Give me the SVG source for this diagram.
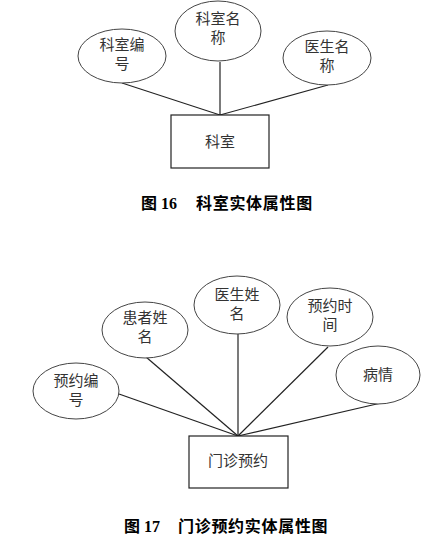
<svg xmlns="http://www.w3.org/2000/svg" width="440" height="550" viewBox="0 0 440 550">
<style>
.attr{fill:#fff;stroke:#444;stroke-width:1}
.ent{fill:#fff;stroke:#222;stroke-width:1.2}
.conn line{stroke:#222;stroke-width:1.2}
.t{font-family:"Noto Sans CJK SC","Liberation Sans",sans-serif;font-size:15px;fill:#333;text-anchor:middle}
.cap{font-family:"Liberation Serif","Noto Sans CJK SC",serif;font-size:16px;font-weight:bold;fill:#000}
.capc{font-family:"Noto Sans CJK SC",sans-serif;font-size:16px;font-weight:bold;fill:#000;letter-spacing:0.7px}
</style>
<rect width="440" height="550" fill="#fff"/>
<g class="conn" id="connectors1">
<line x1="122" y1="83" x2="220" y2="115"/>
<line x1="220" y1="62" x2="220" y2="115"/>
<line x1="328" y1="85" x2="220" y2="115"/>
</g>
<g id="attr-keshi-bianhao"><ellipse class="attr" cx="122" cy="56" rx="44" ry="27"/><text class="t" x="122" y="50">科室编</text><text class="t" x="122" y="69">号</text></g>
<g id="attr-keshi-mingcheng"><ellipse class="attr" cx="218" cy="31" rx="43" ry="30"/><text class="t" x="218" y="24">科室名</text><text class="t" x="218" y="43">称</text></g>
<g id="attr-yisheng-mingcheng"><ellipse class="attr" cx="327" cy="58" rx="44" ry="27"/><text class="t" x="327" y="52">医生名</text><text class="t" x="327" y="71">称</text></g>
<g id="entity-keshi"><rect class="ent" x="171" y="115" width="98" height="53"/><text class="t" x="220" y="147">科室</text></g>
<g id="caption16"><text class="cap" x="141" y="209">图 16</text><text class="capc" x="196" y="209">科室实体属性图</text></g>

<g class="conn" id="connectors2">
<line x1="119" y1="394" x2="238" y2="436"/>
<line x1="146" y1="357" x2="238" y2="436"/>
<line x1="238" y1="334" x2="238" y2="436"/>
<line x1="328" y1="347" x2="238" y2="436"/>
<line x1="381" y1="403" x2="238" y2="436"/>
</g>
<g id="attr-yuyue-bianhao"><ellipse class="attr" cx="76" cy="391" rx="43" ry="28"/><text class="t" x="76" y="386">预约编</text><text class="t" x="76" y="405">号</text></g>
<g id="attr-huanzhe-xingming"><ellipse class="attr" cx="145" cy="330" rx="43" ry="28"/><text class="t" x="145" y="323">患者姓</text><text class="t" x="145" y="342">名</text></g>
<g id="attr-yisheng-xingming"><ellipse class="attr" cx="237" cy="305" rx="43" ry="29"/><text class="t" x="237" y="300">医生姓</text><text class="t" x="237" y="319">名</text></g>
<g id="attr-yuyue-shijian"><ellipse class="attr" cx="330" cy="317" rx="43" ry="29"/><text class="t" x="330" y="311">预约时</text><text class="t" x="330" y="330">间</text></g>
<g id="attr-bingqing"><ellipse class="attr" cx="378" cy="375" rx="42" ry="29"/><text class="t" x="378" y="380">病情</text></g>
<g id="entity-menzhen-yuyue"><rect class="ent" x="189" y="436" width="99" height="52"/><text class="t" x="238" y="466">门诊预约</text></g>
<g id="caption17"><text class="cap" x="124" y="532">图 17</text><text class="capc" x="178" y="532">门诊预约实体属性图</text></g>
</svg>
